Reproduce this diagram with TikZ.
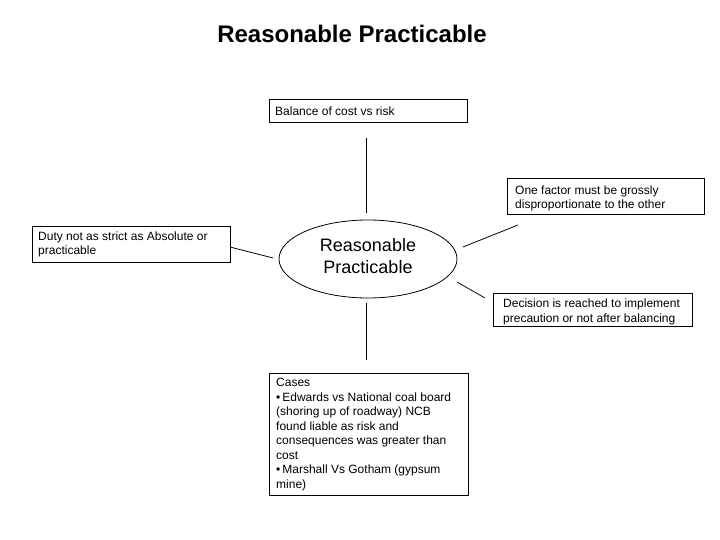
\documentclass[tikz,border=0pt]{standalone}
\usepackage{fontspec}
\setmainfont{Liberation Sans}
\usetikzlibrary{shapes.geometric}
\begin{document}
\begin{tikzpicture}[x=1pt,y=-1pt,
  boxframe/.style={draw, line width=0.8pt, inner sep=0pt, anchor=north west},
  boxtext/.style={anchor=west, inner sep=0pt, align=left, font=\fontsize{12}{14.6}\selectfont},
  conn/.style={line width=0.8pt}]
\useasboundingbox (0,0) rectangle (720,540);
\node[font=\bfseries\fontsize{24}{28}\selectfont] (title) at (352,34) {Reasonable Practicable};
% boxes
\node[boxframe, minimum width=198pt, minimum height=23pt] (bal) at (269,99) {};
\node[boxtext] (baltxt) at (275,111.5) {Balance of cost vs risk};
\node[boxframe, minimum width=198pt, minimum height=36pt] (duty) at (32,226) {};
\node[boxtext] (dutytxt) at (38,244.5) {Duty not as strict as Absolute or\\practicable};
\node[boxframe, minimum width=197pt, minimum height=36pt] (one) at (507,178) {};
\node[boxtext] (onetxt) at (515,198.5) {One factor must be grossly\\disproportionate to the other};
\node[boxframe, minimum width=199pt, minimum height=33pt] (dec) at (493,293) {};
\node[boxtext] (dectxt) at (503,312) {Decision is reached to implement\\precaution or not after balancing};
\node[boxframe, minimum width=199pt, minimum height=122pt] (cases) at (269,373) {};
\node[boxtext, font=\fontsize{12}{14.45}\selectfont] (casestxt) at (276,434.5) {Cases\\\textbullet\,Edwards vs National coal board\\(shoring up of roadway) NCB\\found liable as risk and\\consequences was greater than\\cost\\\textbullet\,Marshall Vs Gotham (gypsum\\mine)};
% ellipse
\node[draw, line width=0.8pt, ellipse, minimum width=178pt, minimum height=78pt, inner sep=0pt] (ell) at (368,259) {};
\node[align=center, font=\fontsize{18}{22}\selectfont] (elltxt) at (368,256) {Reasonable\\Practicable};
% connectors
\coordinate (c1a) at (366,138); \coordinate (c1b) at (366,213);
\coordinate (c2a) at (230,247); \coordinate (c2b) at (273,258);
\coordinate (c3a) at (463,247); \coordinate (c3b) at (518,225);
\coordinate (c4a) at (457,282); \coordinate (c4b) at (485,298);
\coordinate (c5a) at (366,303); \coordinate (c5b) at (366,360);
\draw[conn] (c1a) -- (c1b);
\draw[conn] (c2a) -- (c2b);
\draw[conn] (c3a) -- (c3b);
\draw[conn] (c4a) -- (c4b);
\draw[conn] (c5a) -- (c5b);
\end{tikzpicture}
\end{document}
